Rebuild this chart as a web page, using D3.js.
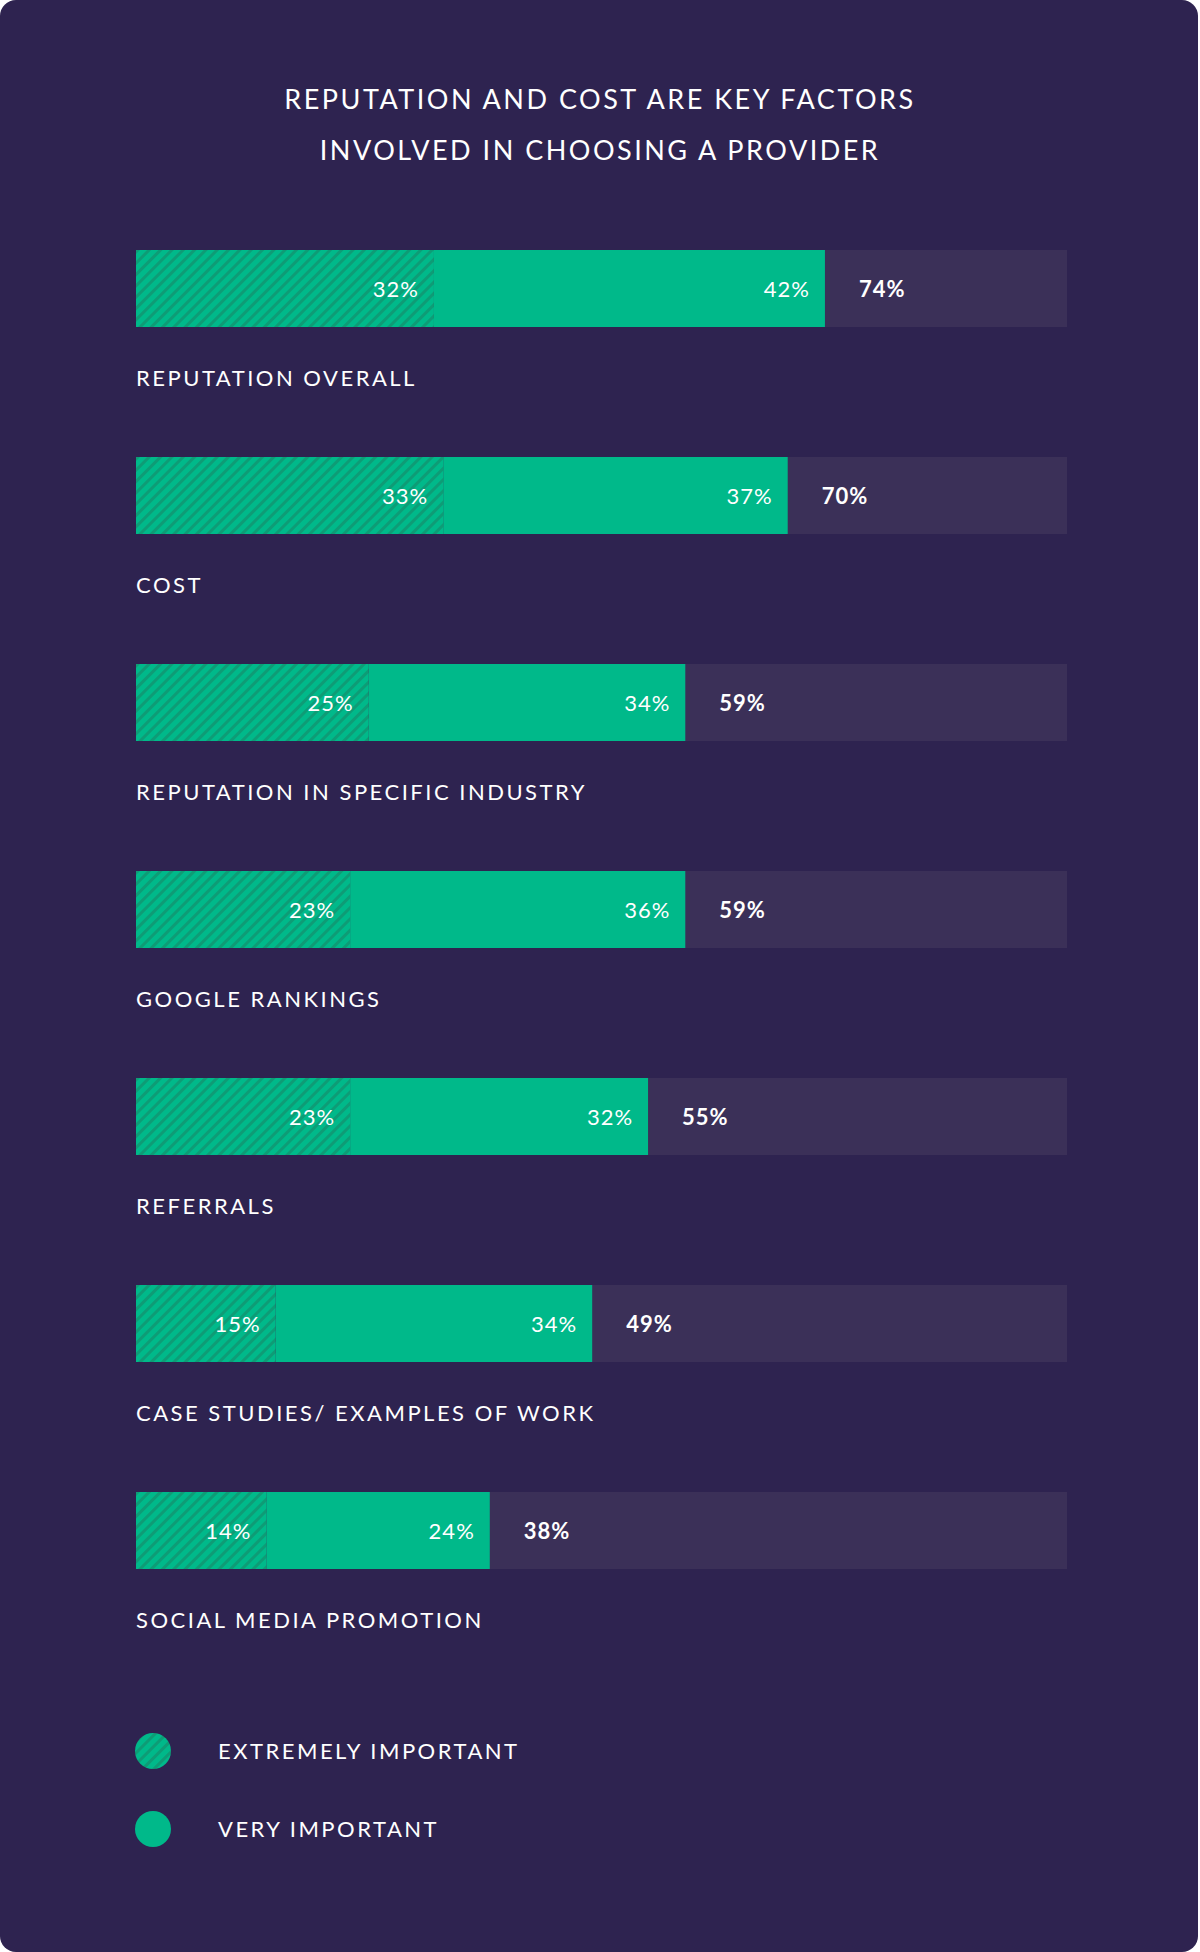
<!DOCTYPE html>
<html><head><meta charset="utf-8">
<script src="https://cdn.jsdelivr.net/npm/d3@7"></script>
<style>body{margin:0;background:#fff;}svg{display:block;}</style>
</head><body>
<div id="chart"></div>
<script>
var categories = ["REPUTATION OVERALL","COST","REPUTATION IN SPECIFIC INDUSTRY","GOOGLE RANKINGS","REFERRALS","CASE STUDIES/ EXAMPLES OF WORK","SOCIAL MEDIA PROMOTION"];
var extremely = [32,33,25,23,23,15,14];
var very = [42,37,34,36,32,34,24];
var totals = [74,70,59,59,55,49,38];
var legendLabels = ["EXTREMELY IMPORTANT","VERY IMPORTANT"];

var W = 1200, H = 1952;
var font = "Lato, 'Open Sans', sans-serif";
var svg = d3.select("#chart").append("svg").attr("width", W).attr("height", H);

var defs = svg.append("defs");
var pat = defs.append("pattern").attr("id","hatch").attr("patternUnits","userSpaceOnUse")
  .attr("width",8).attr("height",8).attr("patternTransform","rotate(45)");
pat.append("rect").attr("width",8).attr("height",8).attr("fill","#00b98a");
pat.append("rect").attr("width",3).attr("height",8).attr("fill","#0e9c76");

svg.append("rect").attr("width",W-2).attr("height",H).attr("rx",16).attr("fill","#2e2350");

var title = svg.append("text").attr("text-anchor","middle").attr("fill","#fff")
  .style("font-family",font).style("font-size","27px").style("letter-spacing","2.5px");
title.append("tspan").attr("x",600).attr("y",109).text("REPUTATION AND COST ARE KEY FACTORS");
title.append("tspan").attr("x",600).attr("y",160).text("INVOLVED IN CHOOSING A PROVIDER");

var x = d3.scaleLinear().domain([0,100]).range([136,1067]);
var y = d3.scaleBand().domain(categories).range([250,250+207*7]).paddingInner(0);
var bh = 77;

var g = svg.selectAll("g.row").data(categories).enter().append("g").attr("class","row")
  .attr("transform", function(d){ return "translate(0," + y(d) + ")"; });

g.append("rect").attr("x",x(0)).attr("width",x(100)-x(0)).attr("height",bh).attr("fill","#3b3058");
g.append("rect").attr("x",function(d,i){ return x(extremely[i]); })
  .attr("width",function(d,i){ return x(extremely[i]+very[i]) - x(extremely[i]); })
  .attr("height",bh).attr("fill","#00b98a");
g.append("rect").attr("x",x(0)).attr("width",function(d,i){ return x(extremely[i])-x(0); })
  .attr("height",bh).attr("fill","url(#hatch)");

g.append("text").attr("x",function(d,i){ return x(extremely[i]) - 15; }).attr("y",bh/2+8)
  .attr("text-anchor","end").attr("fill","#fff").style("font-family",font).style("font-size","22px")
  .style("letter-spacing","1px").text(function(d,i){ return extremely[i] + "%"; });
g.append("text").attr("x",function(d,i){ return x(totals[i]) - 15; }).attr("y",bh/2+8)
  .attr("text-anchor","end").attr("fill","#fff").style("font-family",font).style("font-size","22px")
  .style("letter-spacing","1px").text(function(d,i){ return very[i] + "%"; });
g.append("text").attr("x",function(d,i){ return x(totals[i]) + 34; }).attr("y",bh/2+8)
  .attr("fill","#fff").style("font-family",font).style("font-size","22px").style("font-weight","bold")
  .style("letter-spacing","1px").text(function(d,i){ return totals[i] + "%"; });
g.append("text").attr("x",x(0)).attr("y",136).attr("fill","#fff").style("font-family",font)
  .style("font-size","22px").style("letter-spacing","2.5px").text(function(d){ return d; });

var lg = svg.selectAll("g.leg").data(legendLabels).enter().append("g").attr("class","leg")
  .attr("transform", function(d,i){ return "translate(0," + (1751 + i*78) + ")"; });
lg.append("circle").attr("cx",153).attr("r",18).attr("fill",function(d,i){ return i==0 ? "url(#hatch)" : "#00b98a"; });
lg.append("text").attr("x",218).attr("y",8).attr("fill","#fff").style("font-family",font)
  .style("font-size","22px").style("letter-spacing","2.5px").text(function(d){ return d; });
</script>
</body></html>
